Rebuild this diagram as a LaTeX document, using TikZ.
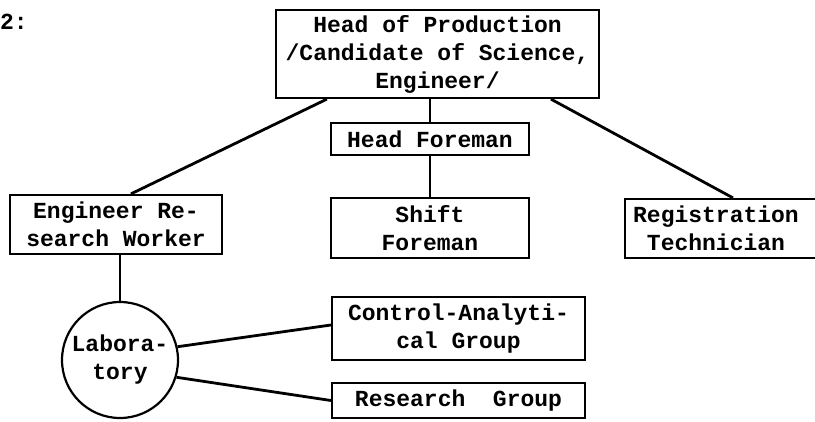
\documentclass[tikz,border=0pt]{standalone}
\usepackage{fontspec}
\setmonofont{Liberation Mono}
\begin{document}
\begin{tikzpicture}[x=1pt,y=-1pt,
  txt/.style={font=\ttfamily\bfseries\fontsize{23}{28}\selectfont, align=center, inner sep=0pt},
  box/.style={draw, line width=2.2pt, inner sep=0pt, txt},
  conn/.style={line width=2.8pt}]
\useasboundingbox (0,0) rectangle (815,421);
% label
\node[txt, anchor=base west] (lbl) at (0,29) {2:};
% boxes
\node[box, minimum width=323pt, minimum height=88pt] (head) at (437.5,54) {Head of Production\\/Candidate of Science,\\Engineer/};
\node[box, minimum width=198pt, minimum height=32pt] (hf) at (430,139) {Head Foreman};
\node[box, minimum width=198pt, minimum height=60pt] (shift) at (430,228) {Shift\\Foreman};
\node[box, minimum width=212pt, minimum height=59pt] (eng) at (116,224.5) {Engineer Re-\\search Worker};
\node[box, minimum width=230pt, minimum height=59pt, anchor=west] (reg) at (624,228.5) {};
\node[txt] (regtxt) at (716,228.5) {Registration\\Technician};
\node[box, circle, minimum size=116pt] (lab) at (120,360) {Labora-\\tory};
\node[box, minimum width=253pt, minimum height=63pt] (ctrl) at (458.5,328.5) {Control-Analyti-\\cal Group};
\node[box, minimum width=253pt, minimum height=35pt] (res) at (458.5,400.5) {Research\ \ Group};
% connectors
\draw[conn] ([xshift=52pt]head.south west) -- ([xshift=122pt]eng.north west);
\draw[conn] ([xshift=276pt]head.south west) -- ([xshift=109pt]reg.north west);
\draw[conn] (hf.north |- head.south) -- (hf.north);
\draw[conn] (hf.south) -- (shift.north);
\draw[conn] (lab.north) -- (lab.north |- eng.south);
\draw[conn] (lab.13) -- ([yshift=3.5pt]ctrl.west);
\draw[conn] (lab.-17) -- (res.west);
\end{tikzpicture}
\end{document}
